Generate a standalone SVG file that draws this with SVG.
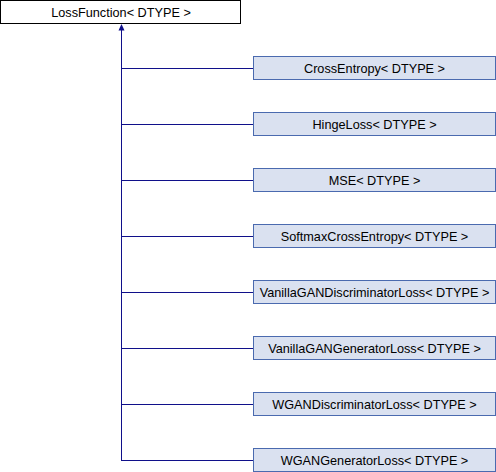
<svg xmlns="http://www.w3.org/2000/svg" width="496" height="472" viewBox="0 0 496 472">
  <style>
    .base rect { fill: #ffffff; stroke: #000000; stroke-width: 1; }
    .derived rect { fill: #dae1f0; stroke: #4a6aaf; stroke-width: 1; }
    text { font-family: "Liberation Sans", Arial, sans-serif; font-size: 12.7px; fill: #000000; text-anchor: middle; }
    .edge { fill: none; stroke: #10108a; stroke-width: 1; }
    .head { fill: #10108a; stroke: none; }
  </style>
  <rect x="0" y="0" width="496" height="472" fill="#ffffff"/>

  <!-- inheritance connectors -->
  <g id="connectors">
    <path class="edge" d="M121.5 29 V460.5"/>
    <path class="edge" d="M121 68.5 H253"/>
    <path class="edge" d="M121 124.5 H253"/>
    <path class="edge" d="M121 180.5 H253"/>
    <path class="edge" d="M121 236.5 H253"/>
    <path class="edge" d="M121 292.5 H253"/>
    <path class="edge" d="M121 348.5 H253"/>
    <path class="edge" d="M121 404.5 H253"/>
    <path class="edge" d="M121 460.5 H253"/>
    <polygon class="head" points="121.5,24 118.5,30.5 124.5,30.5"/>
  </g>

  <g id="LossFunction" class="base">
    <rect x="0.5" y="0.5" width="240" height="23"/>
    <text x="121" y="16.5">LossFunction&lt; DTYPE &gt;</text>
  </g>

  <g id="CrossEntropy" class="derived">
    <rect x="253.5" y="56.5" width="242" height="23"/>
    <text x="374.5" y="72.5">CrossEntropy&lt; DTYPE &gt;</text>
  </g>
  <g id="HingeLoss" class="derived">
    <rect x="253.5" y="112.5" width="242" height="23"/>
    <text x="374.5" y="128.5">HingeLoss&lt; DTYPE &gt;</text>
  </g>
  <g id="MSE" class="derived">
    <rect x="253.5" y="168.5" width="242" height="23"/>
    <text x="374.5" y="184.5">MSE&lt; DTYPE &gt;</text>
  </g>
  <g id="SoftmaxCrossEntropy" class="derived">
    <rect x="253.5" y="224.5" width="242" height="23"/>
    <text x="374.5" y="240.5">SoftmaxCrossEntropy&lt; DTYPE &gt;</text>
  </g>
  <g id="VanillaGANDiscriminatorLoss" class="derived">
    <rect x="253.5" y="280.5" width="242" height="23"/>
    <text x="374.5" y="296.5">VanillaGANDiscriminatorLoss&lt; DTYPE &gt;</text>
  </g>
  <g id="VanillaGANGeneratorLoss" class="derived">
    <rect x="253.5" y="336.5" width="242" height="23"/>
    <text x="374.5" y="352.5">VanillaGANGeneratorLoss&lt; DTYPE &gt;</text>
  </g>
  <g id="WGANDiscriminatorLoss" class="derived">
    <rect x="253.5" y="392.5" width="242" height="23"/>
    <text x="374.5" y="408.5">WGANDiscriminatorLoss&lt; DTYPE &gt;</text>
  </g>
  <g id="WGANGeneratorLoss" class="derived">
    <rect x="253.5" y="448.5" width="242" height="23"/>
    <text x="374.5" y="464.5">WGANGeneratorLoss&lt; DTYPE &gt;</text>
  </g>
</svg>
